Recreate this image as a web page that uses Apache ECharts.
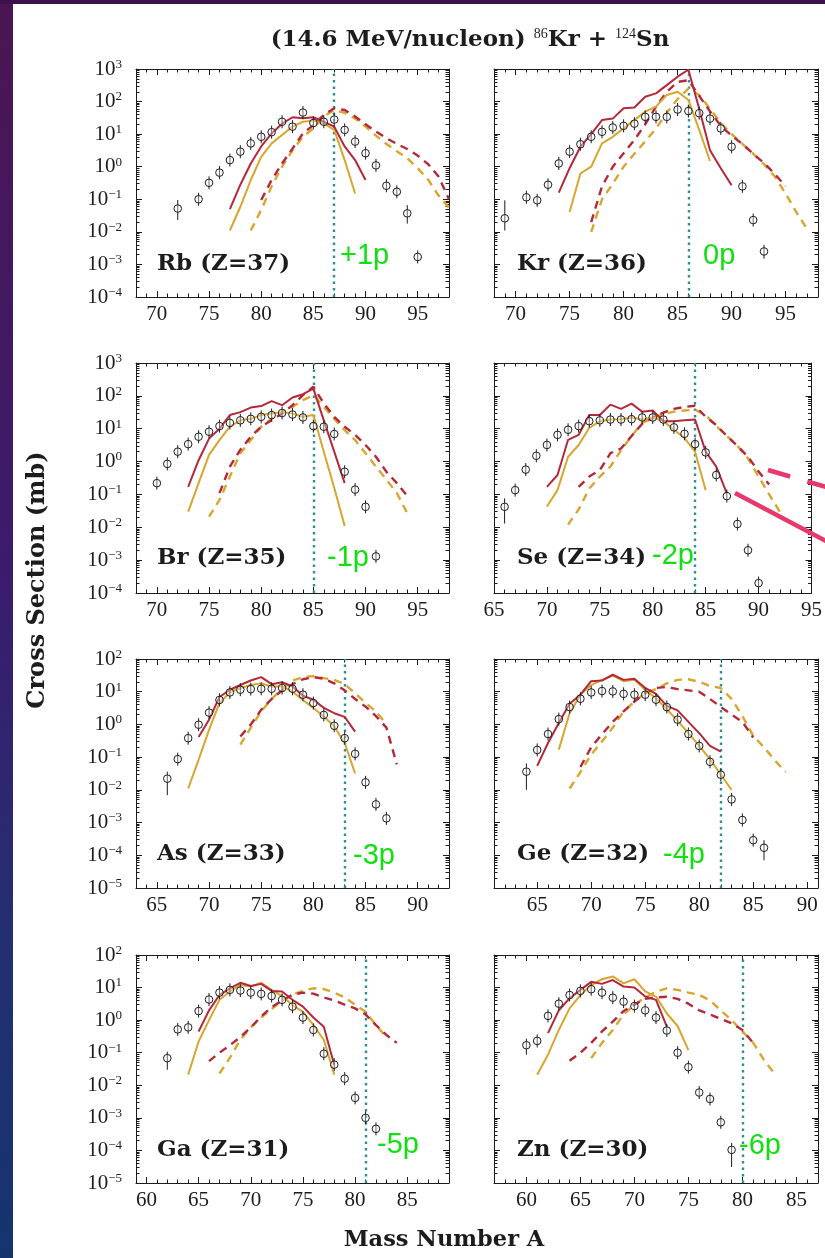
<!DOCTYPE html>
<html>
<head>
<meta charset="utf-8">
<title>Isotopic cross sections, 86Kr + 124Sn at 14.6 MeV/nucleon</title>
<script src="https://cdn.jsdelivr.net/npm/echarts@6.0.0/dist/echarts.min.js"></script>
<style>
  html, body { margin: 0; padding: 0; background: #ffffff; }
  #chart { width: 825px; height: 1258px; }
</style>
</head>
<body>
<div id="chart"></div>
<script>
// ---------------------------------------------------------------
// Panels, one per element (heaviest first)
// ---------------------------------------------------------------
const elementLabels = ['Rb (Z=37)', 'Kr (Z=36)', 'Br (Z=35)', 'Se (Z=34)', 'As (Z=33)', 'Ge (Z=32)', 'Ga (Z=31)', 'Zn (Z=30)'];
const protonChange = ['+1p', '0p', '-1p', '-2p', '-3p', '-4p', '-5p', '-6p'];
// mass number marked by the dotted line in each panel
const referenceMass = [87, 86, 85, 84, 83, 82, 81, 80];
// mass-number axis ranges and labelled ticks
const massMin = [68, 68, 68, 65, 63, 61, 59, 57];
const massMax = [98, 98, 98, 95, 93, 91, 89, 87];
const massTicks = [
  [70, 75, 80, 85, 90, 95],
  [70, 75, 80, 85, 90, 95],
  [70, 75, 80, 85, 90, 95],
  [65, 70, 75, 80, 85, 90, 95],
  [65, 70, 75, 80, 85, 90],
  [65, 70, 75, 80, 85, 90],
  [60, 65, 70, 75, 80, 85],
  [60, 65, 70, 75, 80, 85]
];
// cross-section axis ranges (powers of ten, mb)
const decadeMin = [-4, -4, -4, -4, -5, -5, -5, -5];
const decadeMax = [3, 3, 3, 3, 2, 2, 2, 2];

// ---------------------------------------------------------------
// Rb (Z=37)
// ---------------------------------------------------------------
const rbMass = [72, 74, 75, 76, 77, 78, 79, 80, 81, 82, 83, 84, 85, 86, 87, 88, 89, 90, 91, 92, 93, 94, 95];
const rbMeasured = [0.052, 0.10, 0.32, 0.66, 1.6, 2.9, 5.2, 8.3, 11.5, 24, 17, 46, 22, 24, 28, 13.5, 5.9, 2.6, 1.1, 0.26, 0.17, 0.037, 0.0017];
const rbErrorBars = [[72, 0.023, 0.095], [94, 0.018, 0.066], [95, 0.0011, 0.0025]];
const rbRedStart = 77;
const rbRed = [0.05, 0.28, 1.25, 4.2, 10.5, 21, 33, 31, 33, 24, 17, 4.2, 1.6, 0.39];
const rbGoldStart = 77;
const rbGold = [0.011, 0.059, 0.39, 2.0, 5.2, 9.4, 17, 24, 26, 21, 13.5, 1.6, 0.15];
const rbRedDashStart = 80;
const rbRedDash = [0.095, 0.39, 1.25, 3.6, 10.5, 19, 39, 62, 55, 35, 20, 12, 7.5, 5, 3.5, 2.2, 1.2, 0.5, 0.1];
const rbGoldDashStart = 79;
const rbGoldDash = [0.011, 0.047, 0.25, 1.0, 3.2, 8.3, 15, 35, 55, 45, 30, 17, 9, 5, 3, 1.8, 0.9, 0.4, 0.13, 0.055];

// ---------------------------------------------------------------
// Kr (Z=36)
// ---------------------------------------------------------------
const krMass = [69, 71, 72, 73, 74, 75, 76, 77, 78, 79, 80, 81, 82, 83, 84, 85, 86, 87, 88, 89, 90, 91, 92, 93];
const krMeasured = [0.026, 0.115, 0.093, 0.28, 1.26, 2.9, 4.9, 8.3, 11.8, 16, 18, 21, 34, 34, 34, 57, 51, 44, 30, 15, 4.1, 0.25, 0.023, 0.0025];
const krErrorBars = [[69, 0.011, 0.093], [93, 0.0015, 0.0035]];
const krRedStart = 74;
const krRed = [0.16, 0.9, 4.1, 10, 27, 30, 62, 66, 141, 178, 320, 580, 950, 60, 3.2, 0.9, 0.27];
const krGoldStart = 75;
const krGold = [0.041, 0.62, 1.0, 5.2, 8.3, 15, 27, 49, 70, 160, 200, 112, 13.5, 1.5];
const krRedDashStart = 77;
const krRedDash = [0.02, 0.25, 1.0, 2.6, 6.6, 20, 70, 200, 400, 450, 150, 50, 18, 9, 5, 2.5, 1.3, 0.6, 0.25];
const krGoldDashStart = 77;
const krGoldDash = [0.01, 0.1, 0.3, 1.0, 2.5, 6, 15, 45, 120, 250, 160, 60, 22, 10, 5, 2.5, 1.2, 0.5, 0.15, 0.04, 0.012];

// ---------------------------------------------------------------
// Br (Z=35)
// ---------------------------------------------------------------
const brMass = [70, 71, 72, 73, 74, 75, 76, 77, 78, 79, 80, 81, 82, 83, 84, 85, 86, 87, 88, 89, 90, 91];
const brMeasured = [0.22, 0.85, 2.0, 3.4, 5.7, 8.1, 12, 15, 18, 20, 23, 26, 30, 27, 22, 12, 11.5, 6.9, 0.49, 0.14, 0.042, 0.0013];
const brErrorBars = [];
const brRedStart = 73;
const brRed = [0.17, 1.1, 5, 10, 26, 32, 44, 49, 69, 52, 89, 112, 166, 18, 2.0, 0.22];
const brGoldStart = 73;
const brGold = [0.03, 0.22, 1.6, 4.5, 11.5, 18, 20, 26, 29, 32, 29, 23, 26, 2, 0.16, 0.011];
const brRedDashStart = 76;
const brRedDash = [0.11, 0.7, 2.3, 5.7, 11.5, 18, 29, 52, 105, 190, 59, 23, 11.5, 6.5, 3.2, 1.4, 0.49, 0.22, 0.09];
const brGoldDashStart = 75;
const brGoldDash = [0.021, 0.068, 0.35, 1.8, 4.5, 11.5, 20, 32, 46, 74, 105, 46, 20, 9, 4.5, 1.8, 0.7, 0.28, 0.11, 0.027];

// ---------------------------------------------------------------
// Se (Z=34)
// ---------------------------------------------------------------
const seMass = [66, 67, 68, 69, 70, 71, 72, 73, 74, 75, 76, 77, 78, 79, 80, 81, 82, 83, 84, 85, 86, 87, 88, 89, 90];
const seMeasured = [0.042, 0.135, 0.57, 1.5, 3.2, 6.5, 9.3, 12, 17, 18, 19, 19, 19.5, 22, 22, 19, 11, 7, 3.4, 1.9, 0.39, 0.089, 0.0126, 0.002, 0.0002];
const seErrorBars = [[66, 0.013, 0.076], [90, 0.000135, 0.00031]];
const seRedStart = 70;
const seRed = [0.17, 0.39, 4.6, 6.5, 26, 26, 54, 40, 58, 33, 36, 17, 17, 18, 19, 2, 0.7, 0.107];
const seGoldStart = 70;
const seGold = [0.043, 0.135, 1.4, 3.2, 10.5, 17, 19, 19.5, 22, 19, 22, 17, 9.3, 5.2, 2, 0.135];
const seRedDashStart = 73;
const seRedDash = [0.17, 0.35, 0.55, 1.8, 2.5, 6, 14, 22, 31, 40, 46, 50, 23, 13, 6, 3, 1.4, 0.5, 0.2];
const seGoldDashStart = 72;
const seGoldDash = [0.012, 0.035, 0.15, 0.35, 0.7, 2.2, 6, 15, 21, 28, 33, 36, 38, 26, 12, 6, 3, 1.25, 0.35, 0.1, 0.03];

// ---------------------------------------------------------------
// As (Z=33)
// ---------------------------------------------------------------
const asMass = [66, 67, 68, 69, 70, 71, 72, 73, 74, 75, 76, 77, 78, 79, 80, 81, 82, 83, 84, 85, 86, 87];
const asMeasured = [0.022, 0.087, 0.38, 0.98, 2.3, 5.6, 9.5, 11.5, 12, 12.3, 12.3, 13, 12.3, 8.1, 4.5, 1.95, 0.91, 0.38, 0.126, 0.017, 0.0036, 0.00135];
const asErrorBars = [[66, 0.0069, 0.036]];
const asRedStart = 69;
const asRed = [0.41, 1.4, 6.9, 11.5, 16, 22, 28, 17, 19.5, 14.5, 7.5, 5.7, 3.2, 2.2, 1.7, 0.6];
const asGoldStart = 68;
const asGold = [0.011, 0.083, 0.68, 4.5, 9.5, 13, 16, 18, 14.5, 14.5, 10, 5.6, 3.2, 1.75, 0.87, 0.27, 0.032];
const asRedDashStart = 73;
const asRedDash = [0.43, 1.0, 2.8, 6, 11, 17, 24, 28, 25, 18, 11, 6, 3.5, 1.8, 0.8, 0.06];
const asGoldDashStart = 73;
const asGoldDash = [0.24, 0.8, 2.5, 6, 12, 22, 28, 30, 26, 23, 17, 9, 4.5, 2.5, 1.0];

// ---------------------------------------------------------------
// Ge (Z=32)
// ---------------------------------------------------------------
const geMass = [64, 65, 66, 67, 68, 69, 70, 71, 72, 73, 74, 75, 76, 77, 78, 79, 80, 81, 82, 83, 84, 85, 86];
const geMeasured = [0.036, 0.166, 0.51, 1.45, 3.4, 6.1, 9.5, 10.5, 10.2, 8.6, 8.1, 8.1, 5.7, 3.4, 1.4, 0.51, 0.22, 0.072, 0.029, 0.0051, 0.0012, 0.00029, 0.00017];
const geErrorBars = [[64, 0.01, 0.064], [86, 0.00007, 0.00029]];
const geRedStart = 65;
const geRed = [0.054, 0.27, 1.1, 4.3, 8.1, 21, 22, 33, 23, 25, 13, 8.6, 3.7, 2.7, 1.2, 0.54, 0.22, 0.147];
const geGoldStart = 67;
const geGold = [0.17, 2.2, 8.1, 16, 23, 31, 21, 23, 11.5, 6.3, 2.9, 1.3, 0.54, 0.22, 0.087, 0.029, 0.01];
const geRedDashStart = 69;
const geRedDash = [0.05, 0.2, 0.5, 1.2, 2.5, 5, 9, 13, 14, 12, 11, 10, 6, 3.4, 2, 1.2, 0.4];
const geGoldDashStart = 68;
const geGoldDash = [0.011, 0.035, 0.12, 0.3, 0.8, 2.5, 5, 9, 12, 18, 23, 24, 20, 15, 13, 6, 1.8, 0.45, 0.2, 0.08, 0.035];

// ---------------------------------------------------------------
// Ga (Z=31)
// ---------------------------------------------------------------
const gaMass = [62, 63, 64, 65, 66, 67, 68, 69, 70, 71, 72, 73, 74, 75, 76, 77, 78, 79, 80, 81, 82];
const gaMeasured = [0.068, 0.52, 0.6, 1.9, 4.3, 7, 8.5, 8.1, 7, 6.4, 5.5, 4.2, 2.6, 1.2, 0.5, 0.093, 0.043, 0.016, 0.0041, 0.001, 0.00046];
const gaErrorBars = [[62, 0.03, 0.098], [81, 0.0007, 0.0014]];
const gaRedStart = 65;
const gaRed = [0.45, 2.0, 5.9, 9.5, 14, 11.2, 13, 7.9, 7.6, 4.2, 2.6, 1.2, 0.63, 0.043];
const gaGoldStart = 64;
const gaGold = [0.021, 0.22, 1.0, 4.2, 7.6, 12, 10.7, 14, 8.5, 5.5, 2.9, 1.8, 0.71, 0.25, 0.021];
const gaRedDashStart = 66;
const gaRedDash = [0.055, 0.1, 0.17, 0.3, 0.6, 1.3, 2.5, 4, 6, 7, 6.5, 5, 4, 3, 2.3, 1.5, 0.7, 0.35, 0.2];
const gaGoldDashStart = 67;
const gaGoldDash = [0.023, 0.07, 0.25, 0.6, 1.2, 2.2, 4, 6, 8, 9.5, 9, 7, 5, 3, 1.8, 0.7, 0.3];

// ---------------------------------------------------------------
// Zn (Z=30)
// ---------------------------------------------------------------
const znMass = [60, 61, 62, 63, 64, 65, 66, 67, 68, 69, 70, 71, 72, 73, 74, 75, 76, 77, 78, 79];
const znMeasured = [0.17, 0.23, 1.35, 3.2, 5.9, 7.9, 8.9, 7, 4.9, 3.7, 2.7, 2.0, 1.2, 0.48, 0.1, 0.036, 0.006, 0.0038, 0.00073, 0.000104];
const znErrorBars = [[60, 0.087, 0.25], [79, 0.000031, 0.00017]];
const znRedStart = 62;
const znRed = [0.40, 2.0, 4.7, 8.5, 15, 13, 17, 10.7, 10, 5.3, 4.2, 0.63];
const znGoldStart = 61;
const znGold = [0.021, 0.087, 0.5, 2.3, 5.9, 12, 18, 22, 13.5, 18, 7.6, 5.3, 1.6, 0.66, 0.12];
const znRedDashStart = 64;
const znRedDash = [0.057, 0.1, 0.2, 0.45, 0.9, 1.9, 3, 4.5, 5, 5.2, 4.5, 3.2, 2.0, 1.5, 1.1, 0.8, 0.5, 0.2];
const znGoldDashStart = 66;
const znGoldDash = [0.068, 0.2, 0.5, 1.5, 3, 5, 7.5, 9.5, 8.5, 7, 6, 4, 2.0, 1.0, 0.45, 0.2, 0.06, 0.022];

// ---------------------------------------------------------------
// Assemble per-panel tables from the arrays above
// ---------------------------------------------------------------
const panels = [
  [rbMass, rbMeasured, rbErrorBars, rbRedStart, rbRed, rbGoldStart, rbGold, rbRedDashStart, rbRedDash, rbGoldDashStart, rbGoldDash],
  [krMass, krMeasured, krErrorBars, krRedStart, krRed, krGoldStart, krGold, krRedDashStart, krRedDash, krGoldDashStart, krGoldDash],
  [brMass, brMeasured, brErrorBars, brRedStart, brRed, brGoldStart, brGold, brRedDashStart, brRedDash, brGoldDashStart, brGoldDash],
  [seMass, seMeasured, seErrorBars, seRedStart, seRed, seGoldStart, seGold, seRedDashStart, seRedDash, seGoldDashStart, seGoldDash],
  [asMass, asMeasured, asErrorBars, asRedStart, asRed, asGoldStart, asGold, asRedDashStart, asRedDash, asGoldDashStart, asGoldDash],
  [geMass, geMeasured, geErrorBars, geRedStart, geRed, geGoldStart, geGold, geRedDashStart, geRedDash, geGoldDashStart, geGoldDash],
  [gaMass, gaMeasured, gaErrorBars, gaRedStart, gaRed, gaGoldStart, gaGold, gaRedDashStart, gaRedDash, gaGoldDashStart, gaGoldDash],
  [znMass, znMeasured, znErrorBars, znRedStart, znRed, znGoldStart, znGold, znRedDashStart, znRedDash, znGoldDashStart, znGoldDash]
];

// ---------------------------------------------------------------
// Layout and styling
// ---------------------------------------------------------------
const gridRects = [
  [136, 69, 313, 228], [494, 69, 324, 228],
  [136, 363, 313, 230], [494, 363, 324, 230],
  [136, 659, 313, 229], [494, 659, 324, 229],
  [136, 955, 313, 228], [494, 955, 324, 228]
];
const changeLabelPos = [[340, 256], [703, 256], [327, 558], [652, 556], [353, 856], [663, 855], [377, 1145], [739, 1146]];

const SERIF = '"Liberation Serif", "Times New Roman", serif';
const BOLD_SERIF = '"DejaVu Serif", "Liberation Serif", serif';
const INK = '#1c1c1c';
const RED = '#b5283a';
const GOLD = '#d8a62e';
const TEAL = '#2f9090';
const GREEN = '#10e010';
const PINK = '#e8386c';

function powerLabel(v) {
  const e = Math.round(Math.log10(v));
  return '{b|10}{s|' + (e < 0 ? '\u2212' + (-e) : String(e)) + '}';
}
const powerRich = {
  b: { fontFamily: SERIF, fontSize: 21, lineHeight: 22, color: INK, verticalAlign: 'middle' },
  s: { fontFamily: SERIF, fontSize: 13, lineHeight: 8, color: INK, verticalAlign: 'top' }
};

function renderMeasured(params, api) {
  const a = api.value(0);
  const p = api.coord([a, api.value(1)]);
  let top = p[1] - 6.5, bottom = p[1] + 6.5;
  const lo = api.value(2), hi = api.value(3);
  if (isFinite(lo) && lo > 0) bottom = Math.max(bottom, api.coord([a, lo])[1]);
  if (isFinite(hi) && hi > 0) top = Math.min(top, api.coord([a, hi])[1]);
  return {
    type: 'group',
    children: [
      { type: 'line', shape: { x1: p[0], y1: top, x2: p[0], y2: bottom }, style: { stroke: INK, lineWidth: 1 } },
      { type: 'circle', shape: { cx: p[0], cy: p[1], r: 3.8 }, style: { fill: 'rgba(255,255,255,0.35)', stroke: INK, lineWidth: 1 } }
    ]
  };
}

function runFrom(start, values) {
  return values.map((v, i) => [start + i, v]);
}

const grids = [], xAxes = [], yAxes = [], series = [];

panels.forEach((pd, g) => {
  const [mass, measured, errs, rs, red, gs, gold, rds, redDash, gds, goldDash] = pd;
  const [l, t, w, h] = gridRects[g];
  const leftColumn = g % 2 === 0;
  grids.push({ left: l, top: t, width: w, height: h });

  const everyMass = [];
  for (let a = massMin[g]; a <= massMax[g]; a++) everyMass.push(a);
  const minorDecades = [];
  for (let n = decadeMin[g]; n < decadeMax[g]; n++) {
    for (let k = 2; k <= 9; k++) minorDecades.push(n + Math.log10(k));
  }

  const xCommon = { gridIndex: g, type: 'value', min: massMin[g], max: massMax[g], splitLine: { show: false } };
  // bottom: labelled major ticks, then unit minor ticks; top mirrors both
  xAxes.push(Object.assign({}, xCommon, {
    position: 'bottom',
    axisLine: { show: true, onZero: false, lineStyle: { color: INK, width: 1 } },
    axisTick: { show: true, inside: true, length: 6, customValues: massTicks[g], lineStyle: { color: INK, width: 1 } },
    axisLabel: { show: true, customValues: massTicks[g], margin: 7, fontFamily: SERIF, fontSize: 21, color: INK }
  }));
  xAxes.push(Object.assign({}, xCommon, {
    position: 'bottom',
    axisLine: { show: false, onZero: false },
    axisTick: { show: true, inside: true, length: 3.5, customValues: everyMass, lineStyle: { color: INK, width: 1 } },
    axisLabel: { show: false }
  }));
  xAxes.push(Object.assign({}, xCommon, {
    position: 'top',
    axisLine: { show: true, onZero: false, lineStyle: { color: INK, width: 1 } },
    axisTick: { show: true, inside: true, length: 6, customValues: massTicks[g], lineStyle: { color: INK, width: 1 } },
    axisLabel: { show: false }
  }));
  xAxes.push(Object.assign({}, xCommon, {
    position: 'top',
    axisLine: { show: false, onZero: false },
    axisTick: { show: true, inside: true, length: 3.5, customValues: everyMass, lineStyle: { color: INK, width: 1 } },
    axisLabel: { show: false }
  }));

  const logCommon = {
    gridIndex: g, type: 'log', logBase: 10, splitNumber: 10,
    min: Math.pow(10, decadeMin[g]), max: Math.pow(10, decadeMax[g]),
    splitLine: { show: false }
  };
  const minorCommon = {
    gridIndex: g, type: 'value', min: decadeMin[g], max: decadeMax[g],
    splitLine: { show: false }, axisLine: { show: false, onZero: false }, axisLabel: { show: false },
    axisTick: { show: true, inside: true, length: 3.5, customValues: minorDecades, lineStyle: { color: INK, width: 1 } }
  };
  yAxes.push(Object.assign({}, logCommon, {
    position: 'left',
    axisLine: { show: true, onZero: false, lineStyle: { color: INK, width: 1 } },
    axisTick: { show: true, inside: true, length: 6, lineStyle: { color: INK, width: 1 } },
    axisLabel: leftColumn
      ? { show: true, margin: 14, formatter: powerLabel, rich: powerRich }
      : { show: false }
  }));
  yAxes.push(Object.assign({}, minorCommon, { position: 'left' }));
  yAxes.push(Object.assign({}, logCommon, {
    position: 'right',
    axisLine: { show: true, onZero: false, lineStyle: { color: INK, width: 1 } },
    axisTick: { show: true, inside: true, length: 6, lineStyle: { color: INK, width: 1 } },
    axisLabel: { show: false }
  }));
  yAxes.push(Object.assign({}, minorCommon, { position: 'right' }));

  const xi = 4 * g, yi = 4 * g;
  const errMap = {};
  errs.forEach(e => { errMap[e[0]] = e; });

  const lineCommon = { type: 'line', xAxisIndex: xi, yAxisIndex: yi, showSymbol: false, symbol: 'none', silent: true, z: 3 };
  series.push(Object.assign({}, lineCommon, {
    name: elementLabels[g] + ' dashed gold', data: runFrom(gds, goldDash),
    lineStyle: { color: GOLD, width: 2.4, type: [8, 6] },
    markLine: {
      silent: true, symbol: ['none', 'none'], label: { show: false },
      lineStyle: { color: TEAL, width: 2.4, type: [2.5, 4] },
      data: [{ xAxis: referenceMass[g] }], z: 1
    }
  }));
  series.push(Object.assign({}, lineCommon, {
    name: elementLabels[g] + ' dashed red', data: runFrom(rds, redDash),
    lineStyle: { color: RED, width: 2.4, type: [8, 6] }
  }));
  series.push(Object.assign({}, lineCommon, {
    name: elementLabels[g] + ' solid gold', data: runFrom(gs, gold),
    lineStyle: { color: GOLD, width: 2 }
  }));
  series.push(Object.assign({}, lineCommon, {
    name: elementLabels[g] + ' solid red', data: runFrom(rs, red),
    lineStyle: { color: RED, width: 2 }
  }));
  series.push({
    type: 'custom', name: elementLabels[g] + ' measured', xAxisIndex: xi, yAxisIndex: yi,
    renderItem: renderMeasured, silent: true, z: 5, clip: false,
    encode: { x: 0, y: 1 },
    data: mass.map((a, i) => {
      const e = errMap[a];
      return e ? [a, measured[i], e[1], e[2]] : [a, measured[i], null, null];
    })
  });
});

// ---------------------------------------------------------------
// Texts and decorations
// ---------------------------------------------------------------
const graphics = [
  {
    type: 'rect', z: 0, silent: true, shape: { x: 0, y: 0, width: 13, height: 1258 },
    style: {
      fill: {
        type: 'linear', x: 0, y: 0, x2: 0, y2: 1,
        colorStops: [
          { offset: 0, color: '#4b1552' }, { offset: 0.45, color: '#3b1c6c' },
          { offset: 0.75, color: '#232f70' }, { offset: 1, color: '#15346e' }
        ]
      }
    }
  },
  { type: 'rect', z: 0, silent: true, shape: { x: 0, y: 0, width: 825, height: 4 }, style: { fill: '#3d0f4d' } },
  {
    type: 'text', silent: true, x: 470, y: 40,
    style: {
      text: '{b|(14.6 MeV/nucleon) }{s|86}{b|Kr + }{s|124}{b|Sn}',
      align: 'center', verticalAlign: 'middle',
      rich: {
        b: { fontFamily: BOLD_SERIF, fontWeight: 'bold', fontSize: 23, lineHeight: 26, fill: INK, verticalAlign: 'middle' },
        s: { fontFamily: SERIF, fontSize: 14, lineHeight: 10, fill: INK, verticalAlign: 'top' }
      }
    }
  },
  {
    type: 'text', silent: true, x: 38, y: 580, rotation: Math.PI / 2,
    style: { text: 'Cross Section (mb)', fontFamily: BOLD_SERIF, fontWeight: 'bold', fontSize: 24, fill: INK, align: 'center', verticalAlign: 'middle' }
  },
  {
    type: 'text', silent: true, x: 444, y: 1240,
    style: { text: 'Mass Number A', fontFamily: BOLD_SERIF, fontWeight: 'bold', fontSize: 22.5, fill: INK, align: 'center', verticalAlign: 'middle' }
  },
  // arrows drawn across the Se panel
  {
    type: 'line', silent: true, z: 20, shape: { x1: 735, y1: 493, x2: 826, y2: 541 },
    style: { stroke: PINK, lineWidth: 4.5 }
  },
  {
    type: 'line', silent: true, z: 20, shape: { x1: 768, y1: 470, x2: 826, y2: 487 },
    style: { stroke: PINK, lineWidth: 4.5, lineDash: [23, 18] }
  }
];

elementLabels.forEach((name, g) => {
  const [l, t] = gridRects[g];
  graphics.push({
    type: 'text', silent: true, z: 10, x: l + (g % 2 ? 23 : 21), y: t + 195,
    style: { text: name, fontFamily: BOLD_SERIF, fontWeight: 'bold', fontSize: 23, fill: INK, align: 'left', verticalAlign: 'middle' }
  });
  graphics.push({
    type: 'text', silent: true, z: 10, x: changeLabelPos[g][0], y: changeLabelPos[g][1],
    style: { text: protonChange[g], fontFamily: '"Liberation Sans", Arial, sans-serif', fontSize: 29, fill: GREEN, align: 'left', verticalAlign: 'middle' }
  });
});

const chart = echarts.init(document.getElementById('chart'), null, { renderer: 'canvas', width: 825, height: 1258 });
chart.setOption({
  animation: false,
  backgroundColor: '#ffffff',
  grid: grids,
  xAxis: xAxes,
  yAxis: yAxes,
  series: series,
  graphic: graphics
});
</script>
</body>
</html>
